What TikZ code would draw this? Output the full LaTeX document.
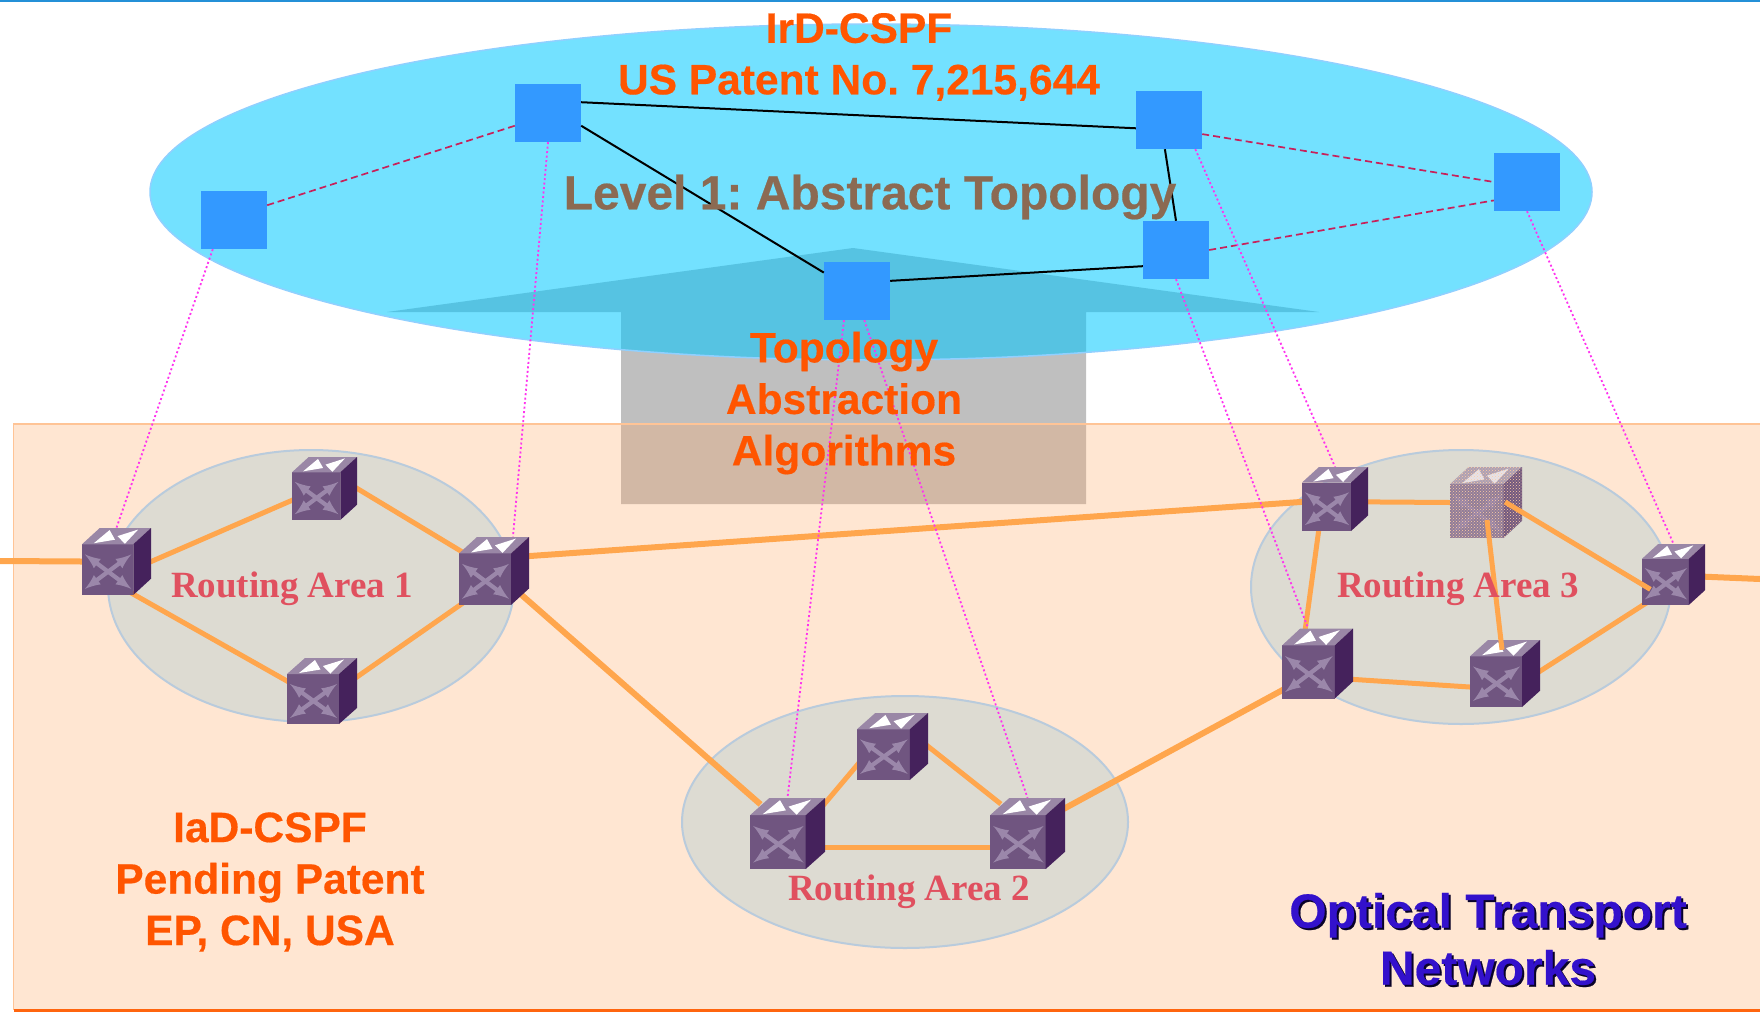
\documentclass[tikz,border=0pt]{standalone}
\usepackage{fontspec}
\setmainfont{Liberation Sans}[BoldFeatures={FakeBold=0.4}]
\newfontfamily\areafont{Liberation Serif}
\usetikzlibrary{arrows,patterns}
\definecolor{absblue}{HTML}{3399FF}
\definecolor{absred}{HTML}{C8205A}
\definecolor{skyfill}{HTML}{00C8FF}
\definecolor{skyedge}{HTML}{90D0FF}
\definecolor{peachfill}{HTML}{FFAB69}
\definecolor{areafill}{HTML}{DDDBD2}
\definecolor{areaedge}{HTML}{B9CBDC}
\definecolor{linkorange}{HTML}{FFA64D}
\definecolor{titleorange}{HTML}{FF5500}
\definecolor{levelbrown}{HTML}{8B6A52}
\definecolor{areared}{HTML}{E0505F}
\definecolor{otnblue}{HTML}{3311CC}
\definecolor{mapmagenta}{HTML}{FF33EE}
\definecolor{boxfront}{HTML}{705580}
\definecolor{boxtop}{HTML}{9A87A6}
\definecolor{boxside}{HTML}{45225C}
\definecolor{boxcross}{HTML}{9B87AA}
\frenchspacing
\tikzset{
  absnode/.style={fill=absblue,inner sep=0pt,minimum width=66pt,minimum height=58pt},
  routernode/.style={inner sep=0pt},
  area/.style={fill=areafill,draw=areaedge,line width=2pt},
  link/.style={linkorange,line width=5pt,shorten <=-10pt,shorten >=-10pt},
  trunk/.style={linkorange,line width=6pt,shorten <=-10pt,shorten >=-10pt},
  absline/.style={black,line width=2pt},
  absdash/.style={absred,dash pattern=on 7pt off 4pt,line width=1.7pt},
  mapline/.style={mapmagenta,dash pattern=on 2pt off 2.5pt,line width=1.8pt},
  titletext/.style={titleorange,font=\fontsize{42.5}{51.5}\selectfont\bfseries,align=center},
  areatext/.style={areared,font=\fontsize{37}{44}\selectfont\areafont\bfseries},
  otnstyle/.style={font=\fontsize{48}{57}\selectfont\bfseries,align=center},
  pics/routerbox/.style={code={
    \fill[boxfront] (-35,-17) rectangle (17,33);
    \fill[boxtop] (-35,-17) -- (-17,-33) -- (35,-33) -- (17,-17) -- cycle;
    \fill[boxside] (17,-17) -- (35,-33) -- (35,17) -- (17,33) -- cycle;
    \fill[white] (-23,-18) -- (-7,-31) -- (-1.5,-21.5) -- cycle;
    \fill[white] (1,-25) -- (22,-31.5) -- (8.5,-17.5) -- cycle;
    \draw[<->,>=latex,boxcross,line width=4.2pt] (-32,-7) -- (15,27);
    \draw[<->,>=latex,boxcross,line width=4.2pt] (-32,27) -- (15,-7);
  }}
}
\begin{document}
\begin{tikzpicture}[x=1pt,y=-1pt]
  \fill[gray!50!white] (853,248) -- (1319,312) -- (1086,312) -- (1086,504) -- (621,504) -- (621,312) -- (387,312) -- cycle;
  \fill[skyfill,opacity=.55] (871,192) ellipse [x radius=721,y radius=168];
  \draw[skyedge,line width=1.5pt] (871,192) ellipse [x radius=721,y radius=168];
  \fill[peachfill,opacity=.3] (13.5,424) rectangle (1760,1012);
  \draw[peachfill!70!white,line width=1.5pt] (1760,424) -- (13.5,424) -- (13.5,1010);
  \draw[titleorange!80!linkorange,line width=3pt] (13.5,1010.5) -- (1760,1010.5);
  \draw[cyan!70!blue!90!white,line width=2pt] (0,1) -- (1760,1);
  \draw[area] (311,586) ellipse [x radius=203,y radius=136];
  \draw[area] (905,822) ellipse [x radius=223,y radius=126];
  \draw[area] (1461,587) ellipse [x radius=210,y radius=137];

  \node[absnode] (S1) at (234,220) {};
  \node[absnode] (S2) at (548,113) {};
  \node[absnode] (S3) at (1169,120) {};
  \node[absnode] (S4) at (1176,250) {};
  \node[absnode] (S5) at (857,291) {};
  \node[absnode] (S6) at (1527,182) {};

  \foreach \name/\cx/\cy/\w/\h in {R1L/116.5/561.5/69/67,R1T/324.5/488.5/65/63,R1B/322/691/70/66,R1R/494/571/70/68,
    R2L/787.5/833.5/75/71,R2T/892.5/746.5/71/67,R2R/1027.5/833.5/75/71,
    R3TL/1335/499/66/64,R3T/1486/502.5/72/71,R3BL/1317.5/663.5/71/70,R3B/1505/673.5/70/67,R3R/1673.5/574.5/63/61}
    \node[routernode,minimum width=\w pt,minimum height=\h pt] (\name) at (\cx,\cy) {};
  \coordinate (WL) at (0,561);
  \coordinate (WR) at (1760,579);
  \coordinate (R3Tin) at (1487,520);
  \coordinate (R3Tout) at (1505,502);

  \draw[trunk,shorten <=0pt] (WL) -- (R1L.west);
  \draw[trunk,shorten >=0pt] (R3R.-4) -- (WR);
  \draw[link] (R1L.east) -- (R1T.200);
  \draw[link] (R1L.-61) -- (R1B.164);
  \draw[link] (R1T.east) -- (R1R.149);
  \draw[link] (R1B.22) -- (R1R.225);
  \draw[trunk] (R1R.23) -- (R3TL.185);
  \draw[trunk] (R1R.-41) -- (R2L.134);
  \draw[link] (R2L.39) -- (R2T.208);
  \draw[link] (R2T.east) -- (R2R.134);
  \draw[link] (R2L.-20) -- (R2R.200);
  \draw[trunk] (R2R.34) -- (R3BL.217);
  \draw[link,shorten >=0pt] (R3TL.-5) -- (R3T.west);
  \draw[link] (R3TL.-117) -- (R3BL.109);
  \draw[link] (R3BL.-24) -- (R3B.201);
  \draw[link] (R3B.4) -- (R3R.225);

  \foreach \name/\w/\h in {R1L/69/67,R1T/65/63,R1B/70/66,R1R/70/68,R2L/75/71,R2T/71/67,R2R/75/71,
    R3TL/66/64,R3BL/71/70,R3B/70/67,R3R/63/61}
    \pic[xscale=\w/70,yscale=\h/66] at (\name) {routerbox};
  \pic[xscale=72/70,yscale=71/66,opacity=.7] at (R3T) {routerbox};
  \fill[pattern=crosshatch dots,pattern color=peachfill!60!white] (1450,483) -- (1468,467) -- (1522,467) -- (1522,520) -- (1504,538) -- (1450,538) -- cycle;
  \draw[link,shorten <=0pt] (R3Tin) -- (R3B.97);
  \draw[link,shorten <=0pt] (R3Tout) -- (R3R.197);

  \draw[absline] (S2.18) -- (S3.194);
  \draw[absline] (S2.-21) -- (S5.151);
  \draw[absline] (S3.262) -- (S4.north);
  \draw[absline] (S5.17) -- (S4.206);
  \draw[absdash] (S1.24) -- (S2.201);
  \draw[absdash] (S3.-23) -- (S6.west);
  \draw[absdash] (S4.east) -- (S6.209);

  \draw[mapline] (S1.234) -- (R1L.north);
  \draw[mapline] (S2.south) -- (R1R.61);
  \draw[mapline] (S5.246) -- (R2L.north);
  \draw[mapline] (S5.-76) -- (R2R.north);
  \draw[mapline] (S4.south) -- (R3BL.105);
  \draw[mapline] (S3.-48) -- (R3TL.north);
  \draw[mapline] (S6.south) -- (R3R.north);

  \node[titletext] (irdtext) at (859,57) {IrD-CSPF\\US Patent No. 7,215,644};
  \node[levelbrown,font=\fontsize{48}{52}\selectfont\bfseries] (leveltext) at (870,197) {Level 1: Abstract Topology};
  \node[titletext] (algotext) at (844,403) {Topology\\Abstraction\\Algorithms};
  \node[titletext] (iadtext) at (270,882) {IaD-CSPF\\Pending Patent\\EP, CN, USA};
  \node[otnstyle,black!80!otnblue] (otnshade) at (1490,941) {Optical Transport\\Networks};
  \node[otnstyle,otnblue] (otntext) at (1488,939) {Optical Transport\\Networks};
  \node[areatext] (area1text) at (292,589) {Routing Area 1};
  \node[areatext] (area2text) at (909,892) {Routing Area 2};
  \node[areatext] (area3text) at (1458,589) {Routing Area 3};
  \pgfresetboundingbox
  \useasboundingbox (0,0) rectangle (1760,1012);
\end{tikzpicture}
\end{document}
